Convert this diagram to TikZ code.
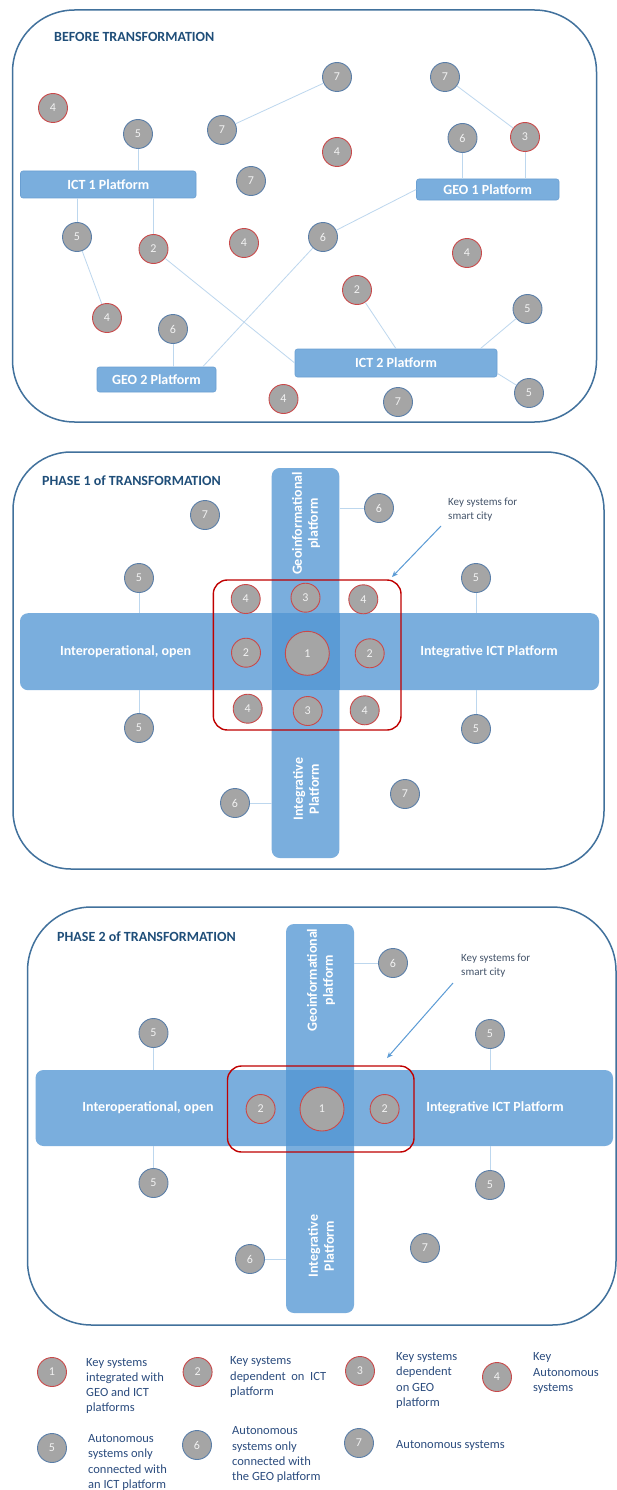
\documentclass[tikz,border=0pt]{standalone}
\usepackage{fontspec}
\setmainfont{Carlito}
\usetikzlibrary{arrows.meta,calc}
\definecolor{panelblue}{HTML}{41719C}
\definecolor{titleblue}{HTML}{1F4E79}
\definecolor{barblue}{HTML}{7AAEDD}
\definecolor{barborder}{HTML}{6A9FD2}
\definecolor{overlapblue}{HTML}{5B9BD5}
\definecolor{sysgray}{HTML}{A5A5A5}
\definecolor{sysborder}{HTML}{5A7EA8}
\definecolor{keyred}{HTML}{C9494A}
\definecolor{rectred}{HTML}{C00000}
\definecolor{connblue}{HTML}{BDD7EE}
\definecolor{numwhite}{HTML}{F2F2F2}
\definecolor{arrowblue}{HTML}{5B9BD5}
\definecolor{notecol}{HTML}{44546A}
\definecolor{legcol}{HTML}{2B4C7E}
\begin{document}
\begin{tikzpicture}[x=1pt,y=-1pt,
  sys/.style={circle, draw=sysborder, line width=0.9pt, fill=sysgray, minimum size=29pt, inner sep=0pt, text=numwhite, font=\fontsize{12}{12}\selectfont},
  key/.style={sys, draw=keyred},
  bigkey/.style={key, minimum size=44pt},
  conn/.style={draw=connblue, line width=0.8pt},
  plat/.style={rectangle, rounded corners=2.5pt, fill=barblue, draw=barborder, line width=0.6pt, text=white, font=\bfseries\fontsize{14}{14}\selectfont, inner sep=0pt},
  panel/.style={draw=panelblue, line width=1.5pt},
  ptitle/.style={anchor=west, text=titleblue, font=\bfseries\fontsize{14}{14}\selectfont, inner sep=0pt},
  bar/.style={rectangle, rounded corners=8pt, fill=barblue, inner sep=0pt},
  bartext/.style={text=white, font=\bfseries\fontsize{14}{16}\selectfont, align=center, inner sep=0pt},
  keyrect/.style={draw=rectred, line width=1.4pt, rounded corners=14pt},
  note/.style={text=notecol, font=\fontsize{11}{13.5}\selectfont, align=left, anchor=base west, inner sep=0pt},
  arr/.style={draw=arrowblue, line width=1pt, -{Stealth[length=6pt,width=5pt]}},
  legtext/.style={text=legcol, font=\fontsize{12.5}{15.3}\selectfont, align=left, inner sep=0pt, anchor=west}
]
\useasboundingbox (0,0) rectangle (617,1490);
\fill[white] (0,0) rectangle (617,1490);

% ================= BEFORE TRANSFORMATION =================
\draw[panel, rounded corners=62pt] (12.5,10) rectangle (596.5,422);
\node[ptitle] (t-title) at (54,37) {BEFORE TRANSFORMATION};

\node[plat, minimum width=175.5pt, minimum height=27pt] (ict1) at (108.25,184.5) {ICT 1 Platform};
\node[plat, minimum width=142.5pt, minimum height=21pt] (geo1) at (487.75,189.5) {GEO 1 Platform};
\node[plat, minimum width=119pt, minimum height=25pt] (geo2) at (156.5,379.5) {GEO 2 Platform};
\node[plat, minimum width=202pt, minimum height=28pt] (ict2) at (396,363) {ICT 2 Platform};

\node[sys] (t7a) at (337,77) {7};
\node[sys] (t7b) at (445,77) {7};
\node[key] (t4a) at (53,108) {4};
\node[sys] (t5a) at (138,134) {5};
\node[sys] (t7c) at (222,130) {7};
\node[key] (t4b) at (337,152) {4};
\node[sys] (t7d) at (251,181) {7};
\node[sys] (t6a) at (462.5,138) {6};
\node[key] (t3) at (525,137) {3};
\node[sys] (t5b) at (77,237) {5};
\node[key] (t2a) at (153.5,249) {2};
\node[key] (t4c) at (244,243) {4};
\node[sys] (t6b) at (323,237) {6};
\node[key] (t4d) at (467,253) {4};
\node[key] (t2b) at (357,290) {2};
\node[sys] (t5c) at (527.5,309) {5};
\node[key] (t4e) at (107,318) {4};
\node[sys] (t6c) at (173,329) {6};
\node[key] (t4f) at (283.5,399) {4};
\node[sys] (t7e) at (398,402) {7};
\node[sys] (t5d) at (529,393) {5};

\draw[conn] (t7c) -- (t7a);
\draw[conn] (t7b) -- (t3);
\draw[conn] (t6a) -- (t6a |- geo1.north);
\draw[conn] (t3) -- (t3 |- geo1.north);
\draw[conn] (t5a) -- (t5a |- ict1.north);
\draw[conn] (ict1.south -| t5b) -- (t5b);
\draw[conn] (ict1.south -| t2a) -- (t2a);
\draw[conn] (geo1.west) -- (t6b);
\draw[conn] (t5b) -- (t4e);
\draw[conn] (t2a) -- (ict2.west);
\draw[conn] (t6b) -- ([xshift=-13.5pt]geo2.north east);
\draw[conn] (t6c) -- (t6c |- geo2.north);
\draw[conn] (t2b) -- (ict2.north);
\draw[conn] (t5c) -- ([xshift=-17pt]ict2.north east);
\draw[conn] ([yshift=4pt]ict2.south east) -- (t5d);

% ================= PHASE 1 =================
\draw[panel, rounded corners=58pt] (13,452) rectangle (604,869);
\node[ptitle] (m-title) at (42,481) {PHASE 1 of TRANSFORMATION};

\node[bar, minimum width=579pt, minimum height=77pt] (mh) at (309.5,651.7) {};
\node[bar, minimum width=67.6pt, minimum height=390pt] (mv) at (305.5,663) {};
\fill[overlapblue] (mv.west |- mh.north) rectangle (mv.east |- mh.south);
\draw[keyrect] (213.3,580) rectangle (401,730);

\node[bartext, rotate=90] (m-geo) at (306,523.5) {Geoinformational\\platform};
\node[bartext, rotate=90] (m-int) at (306,789) {Integrative\\Platform};
\node[bartext] (m-left) at (125.6,652) {Interoperational, open};
\node[bartext] (m-right) at (489,652) {Integrative ICT Platform};

\node[sys] (m7a) at (205,515) {7};
\node[sys] (m6a) at (379,508) {6};
\node[sys] (m5a) at (139,578) {5};
\node[sys] (m5b) at (476,578) {5};
\node[key] (m4a) at (245.7,599) {4};
\node[key] (m3a) at (305.5,597.7) {3};
\node[key] (m4b) at (363.3,599.3) {4};
\node[key] (m2a) at (246,652.7) {2};
\node[bigkey] (m1) at (307.3,653.3) {1};
\node[key] (m2b) at (369.7,653.3) {2};
\node[key] (m4c) at (247.7,708.7) {4};
\node[key] (m3b) at (307.7,711) {3};
\node[key] (m4d) at (364.7,710.3) {4};
\node[sys] (m5c) at (139,728) {5};
\node[sys] (m5d) at (476,729) {5};
\node[sys] (m6b) at (235,803) {6};
\node[sys] (m7b) at (405,794) {7};

\draw[conn] (m6a) -- (m6a -| mv.east);
\draw[conn] (m5a) -- (m5a |- mh.north);
\draw[conn] (m5b) -- (m5b |- mh.north);
\draw[conn] (m5c) -- (m5c |- mh.south);
\draw[conn] (m5d) -- (m5d |- mh.south);
\draw[conn] (m6b) -- (m6b -| mv.west);

\node[note] (m-note) at (448,519) {Key systems for\\smart city};
\coordinate (m-as) at (441,526);
\coordinate (m-ae) at (392,577);
\draw[arr] (m-as) -- (m-ae);

% ================= PHASE 2 =================
\draw[panel, rounded corners=64pt] (27.5,907) rectangle (616,1325);
\node[ptitle] (b-title) at (57,937) {PHASE 2 of TRANSFORMATION};

\node[bar, minimum width=577.5pt, minimum height=76pt] (bh) at (324.25,1108) {};
\node[bar, minimum width=68pt, minimum height=389pt] (bv) at (320,1118.5) {};
\fill[overlapblue] (bv.west |- bh.north) rectangle (bv.east |- bh.south);
\draw[keyrect] (227.5,1066) rectangle (414,1152);

\node[bartext, rotate=90] (b-geo) at (321,980) {Geoinformational\\platform};
\node[bartext, rotate=90] (b-int) at (321,1246) {Integrative\\Platform};
\node[bartext] (b-left) at (148,1108) {Interoperational, open};
\node[bartext] (b-right) at (495,1108) {Integrative ICT Platform};

\node[sys] (b6a) at (393,963) {6};
\node[sys] (b5a) at (153.5,1033) {5};
\node[sys] (b5b) at (490,1034) {5};
\node[key] (b2a) at (260.6,1109) {2};
\node[bigkey] (b1) at (322,1109) {1};
\node[key] (b2b) at (384.6,1109) {2};
\node[sys] (b5c) at (153.5,1183) {5};
\node[sys] (b5d) at (490,1185) {5};
\node[sys] (b6b) at (250,1259) {6};
\node[sys] (b7) at (425,1248) {7};

\draw[conn] (b6a) -- (b6a -| bv.east);
\draw[conn] (b5a) -- (b5a |- bh.north);
\draw[conn] (b5b) -- (b5b |- bh.north);
\draw[conn] (b5c) -- (b5c |- bh.south);
\draw[conn] (b5d) -- (b5d |- bh.south);
\draw[conn] (b6b) -- (b6b -| bv.west);

\node[note] (b-note) at (461,975) {Key systems for\\smart city};
\coordinate (b-as) at (453,983);
\coordinate (b-ae) at (387,1058);
\draw[arr] (b-as) -- (b-ae);

% ================= LEGEND =================
\node[key] (l1) at (52,1372) {1};
\node[legtext] (l1t) at (86,1386) {Key systems\\integrated with\\GEO and ICT\\platforms};
\node[key] (l2) at (197.6,1372) {2};
\node[legtext] (l2t) at (230,1377) {Key systems\\dependent~ on~ ICT\\platform};
\node[key] (l3) at (360,1371) {3};
\node[legtext] (l3t) at (396,1380.6) {Key systems\\dependent\\on GEO\\platform};
\node[key] (l4) at (497,1377) {4};
\node[legtext] (l4t) at (533,1373) {Key\\Autonomous\\systems};
\node[sys] (l5) at (52,1448) {5};
\node[legtext] (l5t) at (88,1462.5) {Autonomous\\systems only\\connected with\\an ICT platform};
\node[sys] (l6) at (197,1445) {6};
\node[legtext] (l6t) at (232,1454.7) {Autonomous\\systems only\\connected with\\the GEO platform};
\node[sys] (l7) at (359,1443) {7};
\node[legtext] (l7t) at (396,1445.7) {Autonomous systems};
\end{tikzpicture}
\end{document}
